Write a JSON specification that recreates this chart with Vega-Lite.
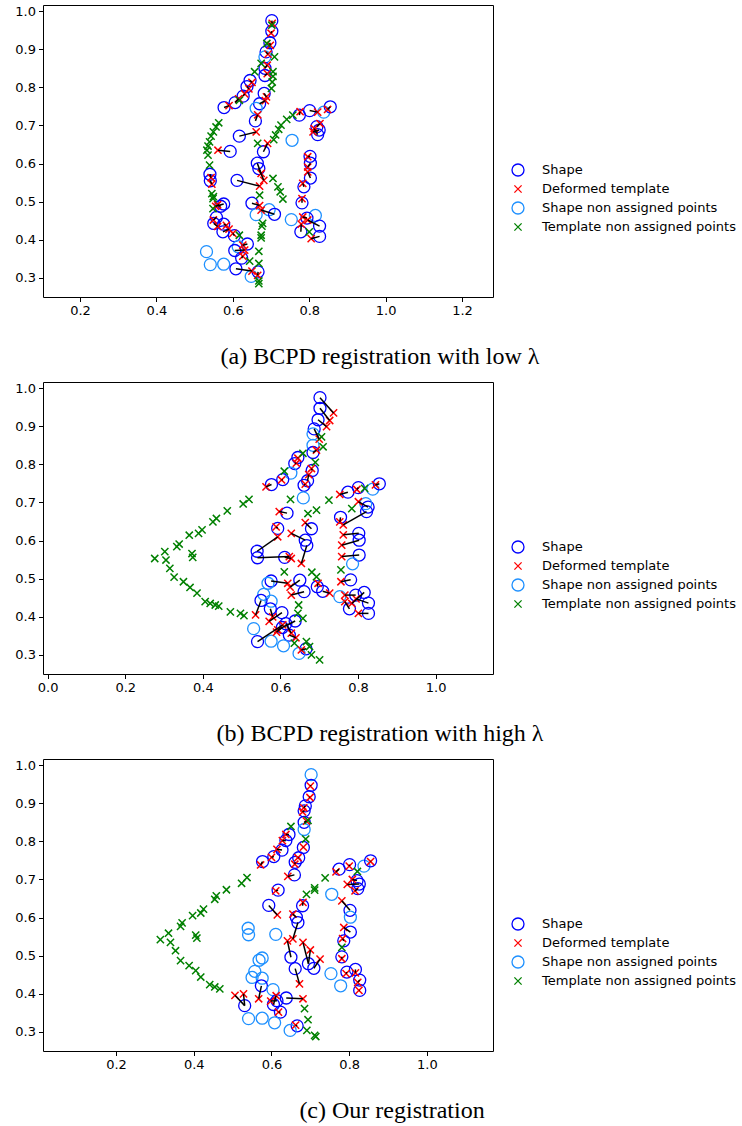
{
"$schema":"https://vega.github.io/schema/vega-lite/v6.json",
"background":"white",
"padding":{"left":14,"top":4,"right":0,"bottom":0},
"config":{
 "view":{"stroke":"black","strokeWidth":1},
 "axis":{"grid":false,"domain":false,"ticks":true,"tickColor":"black","tickSize":4.5,"labelFont":"DejaVu Sans","labelFontSize":13,"labelColor":"black","title":null,"labelPadding":3,"labelOverlap":false,"labelFlush":false},
 "legend":{"labelFont":"DejaVu Sans","labelFontSize":13,"labelColor":"black","labelLimit":0,"symbolStrokeWidth":1.3,"symbolSize":144,"rowPadding":3,"labelOffset":17,"padding":0},
 "title":{"font":"Liberation Serif","fontSize":24,"fontWeight":"normal","color":"black"},
 "concat":{"spacing":12}
},
"datasets":{
 "shape":[
  {"id":1,"x":0.702,"y":0.975,"a":"Shape","b":"Shape","c":"Shape non assigned points"},
  {"id":2,"x":0.702,"y":0.947,"a":"Shape","b":"Shape","c":"Shape"},
  {"id":3,"x":0.697,"y":0.917,"a":"Shape","b":"Shape","c":"Shape"},
  {"id":4,"x":0.687,"y":0.893,"a":"Shape","b":"Shape","c":"Shape"},
  {"id":5,"x":0.684,"y":0.880,"a":"Shape non assigned points","b":"Shape non assigned points","c":"Shape"},
  {"id":6,"x":0.684,"y":0.850,"a":"Shape","b":"Shape non assigned points","c":"Shape"},
  {"id":7,"x":0.684,"y":0.831,"a":"Shape","b":"Shape","c":"Shape non assigned points"},
  {"id":8,"x":0.645,"y":0.818,"a":"Shape","b":"Shape","c":"Shape"},
  {"id":9,"x":0.637,"y":0.802,"a":"Shape","b":"Shape","c":"Shape"},
  {"id":10,"x":0.627,"y":0.777,"a":"Shape","b":"Shape non assigned points","c":"Shape"},
  {"id":11,"x":0.606,"y":0.760,"a":"Shape","b":"Shape","c":"Shape"},
  {"id":12,"x":0.577,"y":0.747,"a":"Shape","b":"Shape","c":"Shape"},
  {"id":13,"x":0.682,"y":0.784,"a":"Shape","b":"Shape","c":"Shape"},
  {"id":14,"x":0.670,"y":0.757,"a":"Shape","b":"Shape","c":"Shape"},
  {"id":15,"x":0.661,"y":0.745,"a":"Shape non assigned points","b":"Shape","c":"Shape"},
  {"id":16,"x":0.659,"y":0.712,"a":"Shape","b":"Shape non assigned points","c":"Shape"},
  {"id":17,"x":0.774,"y":0.727,"a":"Shape","b":"Shape","c":"Shape"},
  {"id":18,"x":0.801,"y":0.739,"a":"Shape","b":"Shape","c":"Shape"},
  {"id":19,"x":0.838,"y":0.735,"a":"Shape non assigned points","b":"Shape non assigned points","c":"Shape non assigned points"},
  {"id":20,"x":0.855,"y":0.749,"a":"Shape","b":"Shape","c":"Shape"},
  {"id":21,"x":0.826,"y":0.688,"a":"Shape","b":"Shape","c":"Shape"},
  {"id":22,"x":0.820,"y":0.697,"a":"Shape","b":"Shape non assigned points","c":"Shape"},
  {"id":23,"x":0.822,"y":0.676,"a":"Shape","b":"Shape","c":"Shape"},
  {"id":24,"x":0.617,"y":0.672,"a":"Shape","b":"Shape","c":"Shape"},
  {"id":25,"x":0.755,"y":0.661,"a":"Shape non assigned points","b":"Shape","c":"Shape non assigned points"},
  {"id":26,"x":0.802,"y":0.619,"a":"Shape","b":"Shape","c":"Shape"},
  {"id":27,"x":0.803,"y":0.601,"a":"Shape","b":"Shape","c":"Shape non assigned points"},
  {"id":28,"x":0.593,"y":0.632,"a":"Shape","b":"Shape","c":"Shape"},
  {"id":29,"x":0.680,"y":0.631,"a":"Shape","b":"Shape","c":"Shape"},
  {"id":30,"x":0.664,"y":0.601,"a":"Shape","b":"Shape","c":"Shape"},
  {"id":31,"x":0.668,"y":0.587,"a":"Shape","b":"Shape","c":"Shape"},
  {"id":32,"x":0.540,"y":0.572,"a":"Shape","b":"Shape","c":"Shape non assigned points"},
  {"id":33,"x":0.541,"y":0.555,"a":"Shape","b":"Shape","c":"Shape non assigned points"},
  {"id":34,"x":0.611,"y":0.556,"a":"Shape","b":"Shape","c":"Shape non assigned points"},
  {"id":35,"x":0.803,"y":0.562,"a":"Shape","b":"Shape","c":"Shape"},
  {"id":36,"x":0.786,"y":0.539,"a":"Shape","b":"Shape non assigned points","c":"Shape"},
  {"id":37,"x":0.576,"y":0.494,"a":"Shape","b":"Shape","c":"Shape non assigned points"},
  {"id":38,"x":0.650,"y":0.496,"a":"Shape","b":"Shape","c":"Shape"},
  {"id":39,"x":0.695,"y":0.479,"a":"Shape non assigned points","b":"Shape","c":"Shape"},
  {"id":40,"x":0.709,"y":0.467,"a":"Shape","b":"Shape","c":"Shape"},
  {"id":41,"x":0.661,"y":0.466,"a":"Shape non assigned points","b":"Shape","c":"Shape"},
  {"id":42,"x":0.781,"y":0.497,"a":"Shape","b":"Shape","c":"Shape"},
  {"id":43,"x":0.816,"y":0.464,"a":"Shape non assigned points","b":"Shape","c":"Shape"},
  {"id":44,"x":0.753,"y":0.453,"a":"Shape non assigned points","b":"Shape non assigned points","c":"Shape non assigned points"},
  {"id":45,"x":0.827,"y":0.436,"a":"Shape","b":"Shape","c":"Shape"},
  {"id":46,"x":0.778,"y":0.421,"a":"Shape","b":"Shape","c":"Shape non assigned points"},
  {"id":47,"x":0.827,"y":0.409,"a":"Shape","b":"Shape","c":"Shape"},
  {"id":48,"x":0.557,"y":0.459,"a":"Shape","b":"Shape non assigned points","c":"Shape non assigned points"},
  {"id":49,"x":0.550,"y":0.443,"a":"Shape","b":"Shape","c":"Shape non assigned points"},
  {"id":50,"x":0.576,"y":0.441,"a":"Shape","b":"Shape non assigned points","c":"Shape non assigned points"},
  {"id":51,"x":0.574,"y":0.421,"a":"Shape","b":"Shape","c":"Shape"},
  {"id":52,"x":0.604,"y":0.411,"a":"Shape","b":"Shape","c":"Shape non assigned points"},
  {"id":53,"x":0.638,"y":0.389,"a":"Shape","b":"Shape","c":"Shape"},
  {"id":54,"x":0.614,"y":0.382,"a":"Shape non assigned points","b":"Shape","c":"Shape"},
  {"id":55,"x":0.623,"y":0.352,"a":"Shape","b":"Shape","c":"Shape"},
  {"id":56,"x":0.531,"y":0.369,"a":"Shape non assigned points","b":"Shape non assigned points","c":"Shape"},
  {"id":57,"x":0.541,"y":0.335,"a":"Shape non assigned points","b":"Shape","c":"Shape non assigned points"},
  {"id":58,"x":0.576,"y":0.336,"a":"Shape non assigned points","b":"Shape non assigned points","c":"Shape non assigned points"},
  {"id":59,"x":0.608,"y":0.324,"a":"Shape","b":"Shape non assigned points","c":"Shape non assigned points"},
  {"id":60,"x":0.666,"y":0.316,"a":"Shape","b":"Shape","c":"Shape"},
  {"id":61,"x":0.648,"y":0.304,"a":"Shape non assigned points","b":"Shape non assigned points","c":"Shape non assigned points"},
  {"id":62,"x":0.794,"y":0.457,"a":"Shape","b":"Shape","c":"Shape"},
  {"id":63,"x":0.568,"y":0.488,"a":"Shape","b":"Shape non assigned points","c":"Shape non assigned points"},
  {"id":64,"x":0.605,"y":0.372,"a":"Shape","b":"Shape","c":"Shape"}
 ],
 "tmpl":[
  {"p":"a","s":"Deformed template","id":1,"x":0.703,"y":0.968},
  {"p":"a","s":"Deformed template","id":2,"x":0.700,"y":0.942},
  {"p":"a","s":"Deformed template","id":3,"x":0.698,"y":0.910},
  {"p":"a","s":"Deformed template","id":4,"x":0.692,"y":0.887},
  {"p":"a","s":"Deformed template","id":6,"x":0.690,"y":0.858},
  {"p":"a","s":"Deformed template","id":7,"x":0.690,"y":0.836},
  {"p":"a","s":"Deformed template","id":8,"x":0.650,"y":0.813},
  {"p":"a","s":"Deformed template","id":9,"x":0.642,"y":0.796},
  {"p":"a","s":"Deformed template","id":10,"x":0.631,"y":0.783},
  {"p":"a","s":"Deformed template","id":11,"x":0.615,"y":0.770},
  {"p":"a","s":"Deformed template","id":12,"x":0.590,"y":0.752},
  {"p":"a","s":"Deformed template","id":13,"x":0.688,"y":0.775},
  {"p":"a","s":"Deformed template","id":14,"x":0.685,"y":0.765},
  {"p":"a","s":"Deformed template","id":16,"x":0.665,"y":0.728},
  {"p":"a","s":"Deformed template","id":17,"x":0.776,"y":0.736},
  {"p":"a","s":"Deformed template","id":18,"x":0.822,"y":0.735},
  {"p":"a","s":"Deformed template","id":20,"x":0.848,"y":0.742},
  {"p":"a","s":"Deformed template","id":21,"x":0.810,"y":0.683},
  {"p":"a","s":"Deformed template","id":22,"x":0.828,"y":0.705},
  {"p":"a","s":"Deformed template","id":23,"x":0.813,"y":0.692},
  {"p":"a","s":"Deformed template","id":24,"x":0.661,"y":0.683},
  {"p":"a","s":"Deformed template","id":26,"x":0.796,"y":0.618},
  {"p":"a","s":"Deformed template","id":27,"x":0.796,"y":0.591},
  {"p":"a","s":"Deformed template","id":28,"x":0.561,"y":0.635},
  {"p":"a","s":"Deformed template","id":29,"x":0.691,"y":0.653},
  {"p":"a","s":"Deformed template","id":30,"x":0.674,"y":0.574},
  {"p":"a","s":"Deformed template","id":31,"x":0.681,"y":0.556},
  {"p":"a","s":"Deformed template","id":32,"x":0.543,"y":0.563},
  {"p":"a","s":"Deformed template","id":33,"x":0.545,"y":0.546},
  {"p":"a","s":"Deformed template","id":34,"x":0.670,"y":0.541},
  {"p":"a","s":"Deformed template","id":35,"x":0.796,"y":0.578},
  {"p":"a","s":"Deformed template","id":36,"x":0.783,"y":0.548},
  {"p":"a","s":"Deformed template","id":37,"x":0.555,"y":0.488},
  {"p":"a","s":"Deformed template","id":38,"x":0.670,"y":0.490},
  {"p":"a","s":"Deformed template","id":40,"x":0.674,"y":0.478},
  {"p":"a","s":"Deformed template","id":42,"x":0.781,"y":0.508},
  {"p":"a","s":"Deformed template","id":45,"x":0.796,"y":0.452},
  {"p":"a","s":"Deformed template","id":46,"x":0.779,"y":0.441},
  {"p":"a","s":"Deformed template","id":47,"x":0.805,"y":0.403},
  {"p":"a","s":"Deformed template","id":48,"x":0.549,"y":0.452},
  {"p":"a","s":"Deformed template","id":49,"x":0.560,"y":0.435},
  {"p":"a","s":"Deformed template","id":50,"x":0.583,"y":0.438},
  {"p":"a","s":"Deformed template","id":51,"x":0.590,"y":0.428},
  {"p":"a","s":"Deformed template","id":52,"x":0.600,"y":0.417},
  {"p":"a","s":"Deformed template","id":53,"x":0.626,"y":0.386},
  {"p":"a","s":"Deformed template","id":55,"x":0.626,"y":0.357},
  {"p":"a","s":"Deformed template","id":59,"x":0.650,"y":0.318},
  {"p":"a","s":"Deformed template","id":60,"x":0.665,"y":0.307},
  {"p":"a","s":"Deformed template","id":62,"x":0.783,"y":0.460},
  {"p":"a","s":"Deformed template","id":63,"x":0.560,"y":0.492},
  {"p":"a","s":"Deformed template","id":64,"x":0.631,"y":0.373},
  {"p":"a","s":"Template non assigned points","x":0.702,"y":0.963},
  {"p":"a","s":"Template non assigned points","x":0.689,"y":0.915},
  {"p":"a","s":"Template non assigned points","x":0.709,"y":0.880},
  {"p":"a","s":"Template non assigned points","x":0.674,"y":0.863},
  {"p":"a","s":"Template non assigned points","x":0.657,"y":0.841},
  {"p":"a","s":"Template non assigned points","x":0.705,"y":0.841},
  {"p":"a","s":"Template non assigned points","x":0.705,"y":0.829},
  {"p":"a","s":"Template non assigned points","x":0.703,"y":0.814},
  {"p":"a","s":"Template non assigned points","x":0.701,"y":0.797},
  {"p":"a","s":"Template non assigned points","x":0.617,"y":0.766},
  {"p":"a","s":"Template non assigned points","x":0.563,"y":0.707},
  {"p":"a","s":"Template non assigned points","x":0.556,"y":0.696},
  {"p":"a","s":"Template non assigned points","x":0.549,"y":0.683},
  {"p":"a","s":"Template non assigned points","x":0.543,"y":0.672},
  {"p":"a","s":"Template non assigned points","x":0.539,"y":0.657},
  {"p":"a","s":"Template non assigned points","x":0.535,"y":0.646},
  {"p":"a","s":"Template non assigned points","x":0.532,"y":0.635},
  {"p":"a","s":"Template non assigned points","x":0.535,"y":0.622},
  {"p":"a","s":"Template non assigned points","x":0.539,"y":0.596},
  {"p":"a","s":"Template non assigned points","x":0.545,"y":0.521},
  {"p":"a","s":"Template non assigned points","x":0.549,"y":0.513},
  {"p":"a","s":"Template non assigned points","x":0.548,"y":0.508},
  {"p":"a","s":"Template non assigned points","x":0.548,"y":0.482},
  {"p":"a","s":"Template non assigned points","x":0.757,"y":0.727},
  {"p":"a","s":"Template non assigned points","x":0.741,"y":0.716},
  {"p":"a","s":"Template non assigned points","x":0.726,"y":0.701},
  {"p":"a","s":"Template non assigned points","x":0.720,"y":0.690},
  {"p":"a","s":"Template non assigned points","x":0.712,"y":0.675},
  {"p":"a","s":"Template non assigned points","x":0.707,"y":0.663},
  {"p":"a","s":"Template non assigned points","x":0.665,"y":0.653},
  {"p":"a","s":"Template non assigned points","x":0.705,"y":0.561},
  {"p":"a","s":"Template non assigned points","x":0.718,"y":0.539},
  {"p":"a","s":"Template non assigned points","x":0.724,"y":0.526},
  {"p":"a","s":"Template non assigned points","x":0.670,"y":0.517},
  {"p":"a","s":"Template non assigned points","x":0.731,"y":0.507},
  {"p":"a","s":"Template non assigned points","x":0.678,"y":0.443},
  {"p":"a","s":"Template non assigned points","x":0.676,"y":0.436},
  {"p":"a","s":"Template non assigned points","x":0.674,"y":0.412},
  {"p":"a","s":"Template non assigned points","x":0.674,"y":0.405},
  {"p":"a","s":"Template non assigned points","x":0.668,"y":0.370},
  {"p":"a","s":"Template non assigned points","x":0.668,"y":0.338},
  {"p":"a","s":"Template non assigned points","x":0.668,"y":0.292},
  {"p":"a","s":"Template non assigned points","x":0.668,"y":0.285},
  {"p":"a","s":"Template non assigned points","x":0.617,"y":0.412},
  {"p":"a","s":"Template non assigned points","x":0.644,"y":0.344},
  {"p":"a","s":"Template non assigned points","x":0.800,"y":0.421},

  {"p":"b","s":"Deformed template","id":1,"x":0.737,"y":0.935},
  {"p":"b","s":"Deformed template","id":2,"x":0.727,"y":0.915},
  {"p":"b","s":"Deformed template","id":3,"x":0.719,"y":0.899},
  {"p":"b","s":"Deformed template","id":4,"x":0.700,"y":0.866},
  {"p":"b","s":"Deformed template","id":7,"x":0.693,"y":0.837},
  {"p":"b","s":"Deformed template","id":8,"x":0.645,"y":0.816},
  {"p":"b","s":"Deformed template","id":9,"x":0.641,"y":0.803},
  {"p":"b","s":"Deformed template","id":11,"x":0.603,"y":0.759},
  {"p":"b","s":"Deformed template","id":12,"x":0.563,"y":0.741},
  {"p":"b","s":"Deformed template","id":13,"x":0.680,"y":0.789},
  {"p":"b","s":"Deformed template","id":14,"x":0.673,"y":0.773},
  {"p":"b","s":"Deformed template","id":15,"x":0.664,"y":0.748},
  {"p":"b","s":"Deformed template","id":17,"x":0.753,"y":0.721},
  {"p":"b","s":"Deformed template","id":18,"x":0.797,"y":0.734},
  {"p":"b","s":"Deformed template","id":20,"x":0.845,"y":0.746},
  {"p":"b","s":"Deformed template","id":21,"x":0.801,"y":0.702},
  {"p":"b","s":"Deformed template","id":23,"x":0.762,"y":0.641},
  {"p":"b","s":"Deformed template","id":24,"x":0.597,"y":0.676},
  {"p":"b","s":"Deformed template","id":25,"x":0.753,"y":0.649},
  {"p":"b","s":"Deformed template","id":26,"x":0.762,"y":0.615},
  {"p":"b","s":"Deformed template","id":27,"x":0.758,"y":0.588},
  {"p":"b","s":"Deformed template","id":28,"x":0.589,"y":0.636},
  {"p":"b","s":"Deformed template","id":29,"x":0.664,"y":0.647},
  {"p":"b","s":"Deformed template","id":30,"x":0.628,"y":0.619},
  {"p":"b","s":"Deformed template","id":31,"x":0.654,"y":0.540},
  {"p":"b","s":"Deformed template","id":32,"x":0.593,"y":0.610},
  {"p":"b","s":"Deformed template","id":33,"x":0.623,"y":0.558},
  {"p":"b","s":"Deformed template","id":34,"x":0.628,"y":0.553},
  {"p":"b","s":"Deformed template","id":35,"x":0.758,"y":0.558},
  {"p":"b","s":"Deformed template","id":37,"x":0.619,"y":0.488},
  {"p":"b","s":"Deformed template","id":38,"x":0.625,"y":0.478},
  {"p":"b","s":"Deformed template","id":39,"x":0.697,"y":0.488},
  {"p":"b","s":"Deformed template","id":40,"x":0.727,"y":0.462},
  {"p":"b","s":"Deformed template","id":41,"x":0.628,"y":0.457},
  {"p":"b","s":"Deformed template","id":42,"x":0.756,"y":0.492},
  {"p":"b","s":"Deformed template","id":43,"x":0.784,"y":0.435},
  {"p":"b","s":"Deformed template","id":45,"x":0.795,"y":0.447},
  {"p":"b","s":"Deformed template","id":46,"x":0.766,"y":0.440},
  {"p":"b","s":"Deformed template","id":47,"x":0.801,"y":0.409},
  {"p":"b","s":"Deformed template","id":49,"x":0.536,"y":0.405},
  {"p":"b","s":"Deformed template","id":51,"x":0.580,"y":0.400},
  {"p":"b","s":"Deformed template","id":52,"x":0.571,"y":0.388},
  {"p":"b","s":"Deformed template","id":53,"x":0.593,"y":0.366},
  {"p":"b","s":"Deformed template","id":54,"x":0.628,"y":0.357},
  {"p":"b","s":"Deformed template","id":55,"x":0.640,"y":0.345},
  {"p":"b","s":"Deformed template","id":57,"x":0.606,"y":0.379},
  {"p":"b","s":"Deformed template","id":60,"x":0.654,"y":0.313},
  {"p":"b","s":"Deformed template","id":62,"x":0.766,"y":0.457},
  {"p":"b","s":"Deformed template","id":64,"x":0.590,"y":0.360},
  {"p":"b","s":"Template non assigned points","x":0.276,"y":0.553},
  {"p":"b","s":"Template non assigned points","x":0.302,"y":0.571},
  {"p":"b","s":"Template non assigned points","x":0.305,"y":0.549},
  {"p":"b","s":"Template non assigned points","x":0.315,"y":0.527},
  {"p":"b","s":"Template non assigned points","x":0.326,"y":0.504},
  {"p":"b","s":"Template non assigned points","x":0.350,"y":0.492},
  {"p":"b","s":"Template non assigned points","x":0.367,"y":0.477},
  {"p":"b","s":"Template non assigned points","x":0.385,"y":0.462},
  {"p":"b","s":"Template non assigned points","x":0.406,"y":0.440},
  {"p":"b","s":"Template non assigned points","x":0.419,"y":0.435},
  {"p":"b","s":"Template non assigned points","x":0.432,"y":0.431},
  {"p":"b","s":"Template non assigned points","x":0.441,"y":0.428},
  {"p":"b","s":"Template non assigned points","x":0.471,"y":0.413},
  {"p":"b","s":"Template non assigned points","x":0.497,"y":0.409},
  {"p":"b","s":"Template non assigned points","x":0.506,"y":0.403},
  {"p":"b","s":"Template non assigned points","x":0.333,"y":0.584},
  {"p":"b","s":"Template non assigned points","x":0.339,"y":0.591},
  {"p":"b","s":"Template non assigned points","x":0.365,"y":0.614},
  {"p":"b","s":"Template non assigned points","x":0.389,"y":0.619},
  {"p":"b","s":"Template non assigned points","x":0.398,"y":0.628},
  {"p":"b","s":"Template non assigned points","x":0.426,"y":0.649},
  {"p":"b","s":"Template non assigned points","x":0.435,"y":0.658},
  {"p":"b","s":"Template non assigned points","x":0.463,"y":0.678},
  {"p":"b","s":"Template non assigned points","x":0.504,"y":0.696},
  {"p":"b","s":"Template non assigned points","x":0.519,"y":0.708},
  {"p":"b","s":"Template non assigned points","x":0.372,"y":0.566},
  {"p":"b","s":"Template non assigned points","x":0.374,"y":0.556},
  {"p":"b","s":"Template non assigned points","x":0.626,"y":0.708},
  {"p":"b","s":"Template non assigned points","x":0.725,"y":0.706},
  {"p":"b","s":"Template non assigned points","x":0.671,"y":0.671},
  {"p":"b","s":"Template non assigned points","x":0.693,"y":0.680},
  {"p":"b","s":"Template non assigned points","x":0.610,"y":0.782},
  {"p":"b","s":"Template non assigned points","x":0.658,"y":0.829},
  {"p":"b","s":"Template non assigned points","x":0.706,"y":0.872},
  {"p":"b","s":"Template non assigned points","x":0.710,"y":0.846},
  {"p":"b","s":"Template non assigned points","x":0.690,"y":0.805},
  {"p":"b","s":"Template non assigned points","x":0.817,"y":0.737},
  {"p":"b","s":"Template non assigned points","x":0.784,"y":0.684},
  {"p":"b","s":"Template non assigned points","x":0.610,"y":0.518},
  {"p":"b","s":"Template non assigned points","x":0.681,"y":0.517},
  {"p":"b","s":"Template non assigned points","x":0.693,"y":0.505},
  {"p":"b","s":"Template non assigned points","x":0.756,"y":0.523},
  {"p":"b","s":"Template non assigned points","x":0.647,"y":0.431},
  {"p":"b","s":"Template non assigned points","x":0.645,"y":0.409},
  {"p":"b","s":"Template non assigned points","x":0.658,"y":0.396},
  {"p":"b","s":"Template non assigned points","x":0.667,"y":0.335},
  {"p":"b","s":"Template non assigned points","x":0.675,"y":0.322},
  {"p":"b","s":"Template non assigned points","x":0.680,"y":0.300},
  {"p":"b","s":"Template non assigned points","x":0.701,"y":0.287},
  {"p":"b","s":"Template non assigned points","x":0.636,"y":0.331},

  {"p":"c","s":"Deformed template","id":2,"x":0.700,"y":0.945},
  {"p":"c","s":"Deformed template","id":3,"x":0.699,"y":0.915},
  {"p":"c","s":"Deformed template","id":4,"x":0.683,"y":0.888},
  {"p":"c","s":"Deformed template","id":5,"x":0.680,"y":0.877},
  {"p":"c","s":"Deformed template","id":6,"x":0.690,"y":0.853},
  {"p":"c","s":"Deformed template","id":8,"x":0.637,"y":0.818},
  {"p":"c","s":"Deformed template","id":9,"x":0.628,"y":0.802},
  {"p":"c","s":"Deformed template","id":10,"x":0.614,"y":0.779},
  {"p":"c","s":"Deformed template","id":11,"x":0.600,"y":0.758},
  {"p":"c","s":"Deformed template","id":12,"x":0.572,"y":0.738},
  {"p":"c","s":"Deformed template","id":13,"x":0.682,"y":0.785},
  {"p":"c","s":"Deformed template","id":14,"x":0.668,"y":0.757},
  {"p":"c","s":"Deformed template","id":15,"x":0.660,"y":0.740},
  {"p":"c","s":"Deformed template","id":16,"x":0.642,"y":0.708},
  {"p":"c","s":"Deformed template","id":17,"x":0.766,"y":0.720},
  {"p":"c","s":"Deformed template","id":18,"x":0.800,"y":0.735},
  {"p":"c","s":"Deformed template","id":20,"x":0.855,"y":0.747},
  {"p":"c","s":"Deformed template","id":21,"x":0.795,"y":0.687},
  {"p":"c","s":"Deformed template","id":22,"x":0.808,"y":0.700},
  {"p":"c","s":"Deformed template","id":23,"x":0.815,"y":0.670},
  {"p":"c","s":"Deformed template","id":24,"x":0.611,"y":0.670},
  {"p":"c","s":"Deformed template","id":26,"x":0.781,"y":0.644},
  {"p":"c","s":"Deformed template","id":28,"x":0.615,"y":0.607},
  {"p":"c","s":"Deformed template","id":29,"x":0.681,"y":0.640},
  {"p":"c","s":"Deformed template","id":30,"x":0.655,"y":0.609},
  {"p":"c","s":"Deformed template","id":31,"x":0.655,"y":0.544},
  {"p":"c","s":"Deformed template","id":35,"x":0.786,"y":0.574},
  {"p":"c","s":"Deformed template","id":36,"x":0.783,"y":0.545},
  {"p":"c","s":"Deformed template","id":38,"x":0.641,"y":0.539},
  {"p":"c","s":"Deformed template","id":39,"x":0.681,"y":0.535},
  {"p":"c","s":"Deformed template","id":39,"x":0.700,"y":0.515},
  {"p":"c","s":"Deformed template","id":40,"x":0.725,"y":0.491},
  {"p":"c","s":"Deformed template","id":41,"x":0.672,"y":0.426},
  {"p":"c","s":"Deformed template","id":42,"x":0.781,"y":0.492},
  {"p":"c","s":"Deformed template","id":43,"x":0.816,"y":0.455},
  {"p":"c","s":"Deformed template","id":45,"x":0.822,"y":0.430},
  {"p":"c","s":"Deformed template","id":47,"x":0.825,"y":0.409},
  {"p":"c","s":"Deformed template","id":51,"x":0.567,"y":0.387},
  {"p":"c","s":"Deformed template","id":53,"x":0.681,"y":0.387},
  {"p":"c","s":"Deformed template","id":54,"x":0.598,"y":0.381},
  {"p":"c","s":"Deformed template","id":55,"x":0.618,"y":0.352},
  {"p":"c","s":"Deformed template","id":56,"x":0.528,"y":0.400},
  {"p":"c","s":"Deformed template","id":56,"x":0.506,"y":0.396},
  {"p":"c","s":"Deformed template","id":60,"x":0.662,"y":0.318},
  {"p":"c","s":"Deformed template","id":62,"x":0.792,"y":0.453},
  {"p":"c","s":"Deformed template","id":64,"x":0.612,"y":0.395},
  {"p":"c","s":"Template non assigned points","x":0.314,"y":0.542},
  {"p":"c","s":"Template non assigned points","x":0.335,"y":0.559},
  {"p":"c","s":"Template non assigned points","x":0.340,"y":0.535},
  {"p":"c","s":"Template non assigned points","x":0.353,"y":0.513},
  {"p":"c","s":"Template non assigned points","x":0.366,"y":0.487},
  {"p":"c","s":"Template non assigned points","x":0.388,"y":0.474},
  {"p":"c","s":"Template non assigned points","x":0.405,"y":0.461},
  {"p":"c","s":"Template non assigned points","x":0.418,"y":0.444},
  {"p":"c","s":"Template non assigned points","x":0.441,"y":0.424},
  {"p":"c","s":"Template non assigned points","x":0.454,"y":0.418},
  {"p":"c","s":"Template non assigned points","x":0.467,"y":0.413},
  {"p":"c","s":"Template non assigned points","x":0.366,"y":0.577},
  {"p":"c","s":"Template non assigned points","x":0.370,"y":0.586},
  {"p":"c","s":"Template non assigned points","x":0.397,"y":0.605},
  {"p":"c","s":"Template non assigned points","x":0.418,"y":0.612},
  {"p":"c","s":"Template non assigned points","x":0.425,"y":0.622},
  {"p":"c","s":"Template non assigned points","x":0.454,"y":0.648},
  {"p":"c","s":"Template non assigned points","x":0.458,"y":0.657},
  {"p":"c","s":"Template non assigned points","x":0.484,"y":0.673},
  {"p":"c","s":"Template non assigned points","x":0.523,"y":0.690},
  {"p":"c","s":"Template non assigned points","x":0.537,"y":0.705},
  {"p":"c","s":"Template non assigned points","x":0.405,"y":0.554},
  {"p":"c","s":"Template non assigned points","x":0.408,"y":0.546},
  {"p":"c","s":"Template non assigned points","x":0.694,"y":0.855},
  {"p":"c","s":"Template non assigned points","x":0.688,"y":0.806},
  {"p":"c","s":"Template non assigned points","x":0.650,"y":0.839},
  {"p":"c","s":"Template non assigned points","x":0.738,"y":0.704},
  {"p":"c","s":"Template non assigned points","x":0.711,"y":0.678},
  {"p":"c","s":"Template non assigned points","x":0.821,"y":0.721},
  {"p":"c","s":"Template non assigned points","x":0.690,"y":0.661},
  {"p":"c","s":"Template non assigned points","x":0.711,"y":0.672},
  {"p":"c","s":"Template non assigned points","x":0.781,"y":0.522},
  {"p":"c","s":"Template non assigned points","x":0.685,"y":0.361},
  {"p":"c","s":"Template non assigned points","x":0.694,"y":0.332},
  {"p":"c","s":"Template non assigned points","x":0.691,"y":0.304},
  {"p":"c","s":"Template non assigned points","x":0.711,"y":0.291},
  {"p":"c","s":"Template non assigned points","x":0.714,"y":0.288}
 ]
},
"resolve":{"scale":{"x":"independent","y":"independent","color":"independent","shape":"independent"},"legend":{"color":"independent","shape":"independent"}},
"vconcat":[
 {
  "width":450,"height":292,
  "title":{"text":"(a) BCPD registration with low λ","orient":"bottom","anchor":"middle","dx":112,"offset":27},
  "layer":[
   {"data":{"name":"shape"},"transform":[{"fold":["a","b","c"],"as":["p","s"]},{"filter":"datum.p == 'a'"}],
    "mark":{"type":"point","filled":false,"strokeWidth":1.3,"size":144,"opacity":1},
    "encoding":{
     "x":{"field":"x","type":"quantitative","scale":{"domain":[0.103,1.281],"zero":false,"nice":false},"axis":{"values":[0.2,0.4,0.6,0.8,1.0,1.2],"format":".1f"}},
     "y":{"field":"y","type":"quantitative","scale":{"domain":[0.25,1.016],"zero":false,"nice":false},"axis":{"values":[0.3,0.4,0.5,0.6,0.7,0.8,0.9,1.0],"format":".1f"}},
     "color":{"field":"s","type":"nominal","scale":{"domain":["Shape","Deformed template","Shape non assigned points","Template non assigned points"],"range":["#0000ff","#ff0000","#1e90ff","#008000"]},"legend":{"orient":"none","legendX":468,"legendY":158,"title":null}},
     "shape":{"field":"s","type":"nominal","scale":{"domain":["Shape","Deformed template","Shape non assigned points","Template non assigned points"],"range":["circle","M-0.6,-0.6L0.6,0.6M-0.6,0.6L0.6,-0.6","circle","M-0.6,-0.6L0.6,0.6M-0.6,0.6L0.6,-0.6"]},"legend":{"orient":"none","legendX":468,"legendY":158,"title":null}}
    }},
   {"data":{"name":"tmpl"},"transform":[{"filter":"datum.p == 'a'"}],
    "mark":{"type":"point","filled":false,"strokeWidth":1.5,"size":144,"opacity":1},
    "encoding":{
     "x":{"field":"x","type":"quantitative"},
     "y":{"field":"y","type":"quantitative"},
     "color":{"field":"s","type":"nominal"},
     "shape":{"field":"s","type":"nominal"}
    }},
   {"data":{"name":"tmpl"},"transform":[{"filter":"datum.p == 'a' && isValid(datum.id)"},{"lookup":"id","from":{"data":{"name":"shape"},"key":"id","fields":["x","y"]},"as":["sx","sy"]}],
    "mark":{"type":"rule","color":"black","strokeWidth":1.5},
    "encoding":{"x":{"field":"x","type":"quantitative"},"y":{"field":"y","type":"quantitative"},"x2":{"field":"sx"},"y2":{"field":"sy"}}}
  ]
 },
 {
  "width":450,"height":292,
  "title":{"text":"(b) BCPD registration with high λ","orient":"bottom","anchor":"middle","dx":112,"offset":27},
  "layer":[
   {"data":{"name":"shape"},"transform":[{"fold":["a","b","c"],"as":["p","s"]},{"filter":"datum.p == 'b'"}],
    "mark":{"type":"point","filled":false,"strokeWidth":1.3,"size":144,"opacity":1},
    "encoding":{
     "x":{"field":"x","type":"quantitative","scale":{"domain":[-0.012,1.148],"zero":false,"nice":false},"axis":{"values":[0.0,0.2,0.4,0.6,0.8,1.0],"format":".1f"}},
     "y":{"field":"y","type":"quantitative","scale":{"domain":[0.25,1.016],"zero":false,"nice":false},"axis":{"values":[0.3,0.4,0.5,0.6,0.7,0.8,0.9,1.0],"format":".1f"}},
     "color":{"field":"s","type":"nominal","scale":{"domain":["Shape","Deformed template","Shape non assigned points","Template non assigned points"],"range":["#0000ff","#ff0000","#1e90ff","#008000"]},"legend":{"orient":"none","legendX":468,"legendY":158,"title":null}},
     "shape":{"field":"s","type":"nominal","scale":{"domain":["Shape","Deformed template","Shape non assigned points","Template non assigned points"],"range":["circle","M-0.6,-0.6L0.6,0.6M-0.6,0.6L0.6,-0.6","circle","M-0.6,-0.6L0.6,0.6M-0.6,0.6L0.6,-0.6"]},"legend":{"orient":"none","legendX":468,"legendY":158,"title":null}}
    }},
   {"data":{"name":"tmpl"},"transform":[{"filter":"datum.p == 'b'"}],
    "mark":{"type":"point","filled":false,"strokeWidth":1.5,"size":144,"opacity":1},
    "encoding":{
     "x":{"field":"x","type":"quantitative"},
     "y":{"field":"y","type":"quantitative"},
     "color":{"field":"s","type":"nominal"},
     "shape":{"field":"s","type":"nominal"}
    }},
   {"data":{"name":"tmpl"},"transform":[{"filter":"datum.p == 'b' && isValid(datum.id)"},{"lookup":"id","from":{"data":{"name":"shape"},"key":"id","fields":["x","y"]},"as":["sx","sy"]}],
    "mark":{"type":"rule","color":"black","strokeWidth":1.5},
    "encoding":{"x":{"field":"x","type":"quantitative"},"y":{"field":"y","type":"quantitative"},"x2":{"field":"sx"},"y2":{"field":"sy"}}}
  ]
 },
 {
  "width":450,"height":292,
  "title":{"text":"(c) Our registration","orient":"bottom","anchor":"middle","dx":124,"offset":27},
  "layer":[
   {"data":{"name":"shape"},"transform":[{"fold":["a","b","c"],"as":["p","s"]},{"filter":"datum.p == 'c'"}],
    "mark":{"type":"point","filled":false,"strokeWidth":1.3,"size":144,"opacity":1},
    "encoding":{
     "x":{"field":"x","type":"quantitative","scale":{"domain":[0.012,1.17],"zero":false,"nice":false},"axis":{"values":[0.2,0.4,0.6,0.8,1.0],"format":".1f"}},
     "y":{"field":"y","type":"quantitative","scale":{"domain":[0.25,1.016],"zero":false,"nice":false},"axis":{"values":[0.3,0.4,0.5,0.6,0.7,0.8,0.9,1.0],"format":".1f"}},
     "color":{"field":"s","type":"nominal","scale":{"domain":["Shape","Deformed template","Shape non assigned points","Template non assigned points"],"range":["#0000ff","#ff0000","#1e90ff","#008000"]},"legend":{"orient":"none","legendX":468,"legendY":158,"title":null}},
     "shape":{"field":"s","type":"nominal","scale":{"domain":["Shape","Deformed template","Shape non assigned points","Template non assigned points"],"range":["circle","M-0.6,-0.6L0.6,0.6M-0.6,0.6L0.6,-0.6","circle","M-0.6,-0.6L0.6,0.6M-0.6,0.6L0.6,-0.6"]},"legend":{"orient":"none","legendX":468,"legendY":158,"title":null}}
    }},
   {"data":{"name":"tmpl"},"transform":[{"filter":"datum.p == 'c'"}],
    "mark":{"type":"point","filled":false,"strokeWidth":1.5,"size":144,"opacity":1},
    "encoding":{
     "x":{"field":"x","type":"quantitative"},
     "y":{"field":"y","type":"quantitative"},
     "color":{"field":"s","type":"nominal"},
     "shape":{"field":"s","type":"nominal"}
    }},
   {"data":{"name":"tmpl"},"transform":[{"filter":"datum.p == 'c' && isValid(datum.id)"},{"lookup":"id","from":{"data":{"name":"shape"},"key":"id","fields":["x","y"]},"as":["sx","sy"]}],
    "mark":{"type":"rule","color":"black","strokeWidth":1.5},
    "encoding":{"x":{"field":"x","type":"quantitative"},"y":{"field":"y","type":"quantitative"},"x2":{"field":"sx"},"y2":{"field":"sy"}}}
  ]
 }
]
}
